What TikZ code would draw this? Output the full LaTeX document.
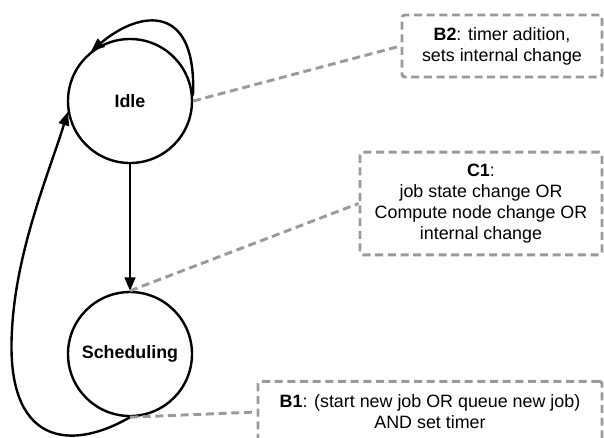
\documentclass[tikz,border=0pt]{standalone}
\usepackage{fontspec}
\setmainfont{Liberation Sans}
\usetikzlibrary{arrows.meta,calc}
\definecolor{ink}{HTML}{000000}
\definecolor{notegrey}{HTML}{9A9A9A}

\begin{document}
\begin{tikzpicture}[x=0.75pt,y=-0.75pt,
    font=\fontsize{13.4}{15.8}\selectfont,
    state/.style={circle,draw=ink,line width=1.8pt,minimum size=93pt,
      inner sep=0pt,font=\fontsize{13.4}{15.8}\selectfont\bfseries},
    trans/.style={-{Triangle[length=10pt,width=8pt]},line width=1.8pt,ink},
    note/.style={draw=notegrey,line width=2.2pt,dash pattern=on 6pt off 3.5pt,
      rounded corners=2pt,align=center,inner sep=0pt},
    link/.style={notegrey,line width=2.2pt,dash pattern=on 6pt off 3.5pt}]

  \clip (0,0) rectangle (604,437);

  % States of the scheduler.
  \node[state] (idle) at (130,101) {Idle};
  \node[state] (sched) at (130,354) {Scheduling};

  % Notes on the transitions.
  \node[note,minimum width=150pt,minimum height=46.5pt] (b2) at (502,46)
       {\textbf{B2}: timer adition,\\sets internal change};
  \node[note,minimum width=181.5pt,minimum height=77pt] (c1) at (481,203.5)
       {\textbf{C1}:\\job state change OR\\Compute node change OR\\internal change};
  \node[note,minimum width=258pt,minimum height=46pt] (b1) at (430,412)
       {\textbf{B1}: (start new job OR queue new job)\\AND set timer};

  \draw[trans] (idle.south) -- (sched.north);
  \draw[trans] (idle.5) .. controls +(4,-92) and +(50,-42) .. (idle.128);
  \draw[trans] (sched.270) .. controls (70,452) and (5,445) .. (12,330)
                            .. controls (16,250) and (50,170) .. (idle.190);

  \draw[link] (idle.east) -- (b2.west);
  \draw[link] (sched.north) -- (c1.west);
  \draw[link] (sched.south) -- (b1.west);
\end{tikzpicture}
\end{document}
